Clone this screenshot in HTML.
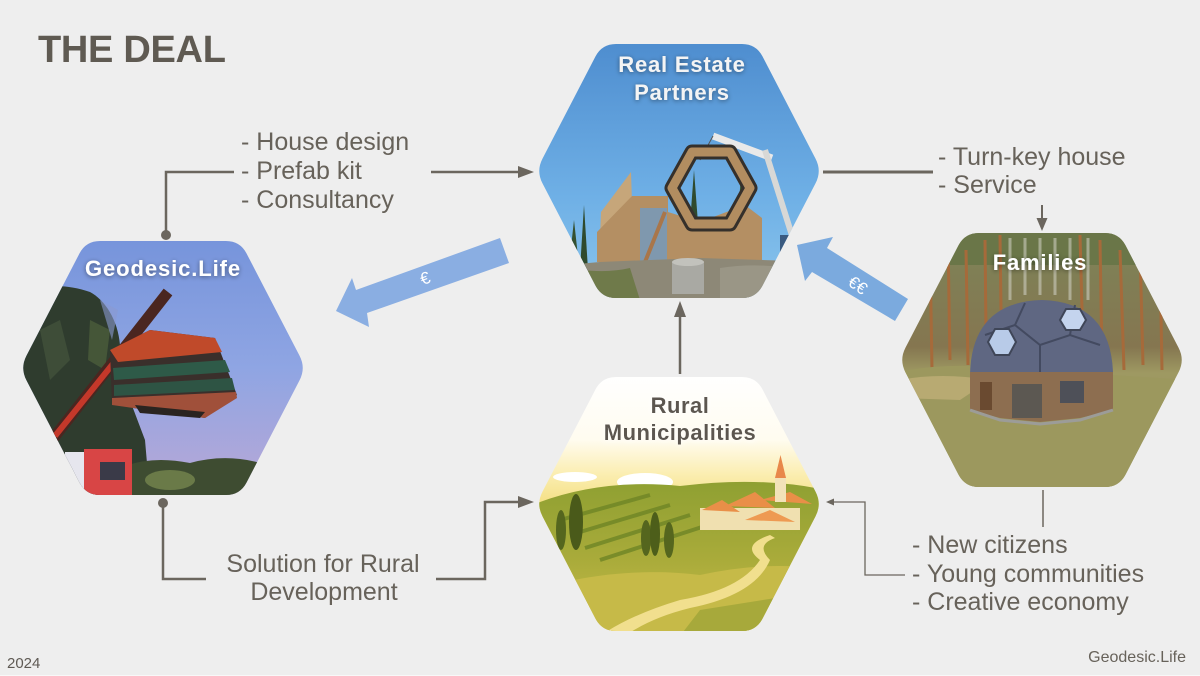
<!DOCTYPE html>
<html><head><meta charset="utf-8"><style>
html,body{margin:0;padding:0;background:#eeeeee;}
svg{display:block;}
text{font-family:"Liberation Sans",sans-serif;}
</style></head><body>
<svg width="1200" height="676" viewBox="0 0 1200 676" xmlns="http://www.w3.org/2000/svg">
<defs>
<path id="hx" d="M -63,-127 L 63,-127 Q 77,-127 83.5,-114.6 L 136.5,-12.4 Q 143,0 136.5,12.4 L 83.5,114.6 Q 77,127 63,127 L -63,127 Q -77,127 -83.5,114.6 L -136.5,12.4 Q -143,0 -136.5,-12.4 L -83.5,-114.6 Q -77,-127 -63,-127 Z"/>
<clipPath id="cG"><use href="#hx" transform="translate(163,368)"/></clipPath>
<clipPath id="cR"><use href="#hx" transform="translate(679,171)"/></clipPath>
<clipPath id="cF"><use href="#hx" transform="translate(1042,360)"/></clipPath>
<clipPath id="cM"><use href="#hx" transform="translate(679,504)"/></clipPath>
<linearGradient id="skyG" x1="0" y1="0" x2="0" y2="1">
<stop offset="0" stop-color="#7694db"/><stop offset="0.5" stop-color="#8fa5e3"/><stop offset="0.85" stop-color="#ada7da"/><stop offset="1" stop-color="#b3a5cc"/></linearGradient>
<linearGradient id="skyR" x1="0" y1="0" x2="0" y2="1">
<stop offset="0" stop-color="#4e8dcf"/><stop offset="0.6" stop-color="#6fb0e6"/><stop offset="1" stop-color="#8cc6ec"/></linearGradient>
<linearGradient id="bgF" x1="0" y1="0" x2="0" y2="1">
<stop offset="0" stop-color="#7d8458"/><stop offset="0.45" stop-color="#857650"/><stop offset="0.55" stop-color="#9e9962"/><stop offset="1" stop-color="#938f58"/></linearGradient>
<linearGradient id="bgM" x1="0" y1="0" x2="0" y2="1">
<stop offset="0" stop-color="#ffffff"/><stop offset="0.25" stop-color="#fffcf0"/><stop offset="0.38" stop-color="#fbeeb2"/><stop offset="0.5" stop-color="#f4df82"/><stop offset="1" stop-color="#e6cf60"/></linearGradient>
<linearGradient id="hillM" x1="0" y1="0" x2="0" y2="1">
<stop offset="0" stop-color="#8fa032"/><stop offset="0.5" stop-color="#a9ab3a"/><stop offset="1" stop-color="#c9bd4a"/></linearGradient>
<filter id="sh" x="-20%" y="-50%" width="140%" height="200%"><feDropShadow dx="0" dy="1" stdDeviation="2.5" flood-color="#000" flood-opacity="0.45"/></filter>
<filter id="wg" x="-20%" y="-50%" width="140%" height="200%"><feDropShadow dx="0" dy="1" stdDeviation="3" flood-color="#fff" flood-opacity="0.9"/></filter>
</defs>

<rect x="0" y="0" width="1200" height="676" fill="#eeeeee"/>
<rect x="0" y="675" width="1200" height="1" fill="#f8f8f8"/>

<!-- Title -->
<text x="38" y="62" font-size="38" font-weight="bold" fill="#5f5a52" letter-spacing="-0.3">THE DEAL</text>

<!-- ========== Geodesic.Life hex ========== -->
<g clip-path="url(#cG)">
<rect x="18" y="238" width="292" height="260" fill="url(#skyG)"/>
<path d="M18,300 C35,285 60,282 90,292 C105,300 118,320 120,345 L128,395 L145,440 L150,498 L18,498 Z" fill="#2f3c2e"/>
<path d="M40,330 L60,320 L70,360 L50,380 Z" fill="#3e4d38"/>
<path d="M90,320 L110,330 L105,370 L88,360 Z" fill="#455638"/>
<path d="M100,300 L118,310 L112,340 Z" fill="#8a9ad0" opacity="0.6"/>
<line x1="52" y1="440" x2="168" y2="292" stroke="#4a2620" stroke-width="11"/>
<line x1="55" y1="436" x2="120" y2="355" stroke="#c4382a" stroke-width="6"/>
<polygon points="110,350 150,330 215,338 237,395 205,418 112,405" fill="#3a2f2b"/>
<polygon points="110,350 150,330 215,338 222,352 118,362" fill="#c04a2a"/>
<polygon points="113,368 225,360 230,372 114,380" fill="#2e5a48"/>
<polygon points="114,385 232,378 235,390 114,396" fill="#2e5444"/>
<polygon points="112,398 236,392 237,398 205,418 112,405" fill="#a0503a"/>
<polygon points="135,405 205,412 200,418 140,413" fill="#2a2420"/>
<path d="M120,498 L120,468 Q150,455 190,463 Q230,452 270,466 L270,498 Z" fill="#3e4c31"/>
<ellipse cx="170" cy="480" rx="25" ry="10" fill="#6a7a48"/>
<rect x="65" y="452" width="20" height="46" fill="#e6e6ee"/>
<rect x="84" y="449" width="48" height="49" fill="#d84545"/>
<rect x="100" y="462" width="25" height="18" fill="#3a3a48"/>
</g>
<text x="163" y="276" font-size="22" font-weight="bold" fill="#ffffff" text-anchor="middle" letter-spacing="0.9" filter="url(#sh)">Geodesic.Life</text>

<!-- ========== Real Estate hex ========== -->
<g clip-path="url(#cR)">
<rect x="534" y="42" width="292" height="260" fill="url(#skyR)"/>
<path d="M580,270 L584,205 L588,270 Z" fill="#2f4a2e"/>
<path d="M568,275 L574,220 L580,275 Z" fill="#35502f"/>
<path d="M688,250 L694,170 L700,250 Z" fill="#2f4a2e"/>
<path d="M735,260 L742,160 L750,260 Z" fill="#3a5a34"/>
<line x1="713" y1="136" x2="772" y2="158" stroke="#e9e9e9" stroke-width="7"/>
<line x1="765" y1="150" x2="795" y2="245" stroke="#d8d8d6" stroke-width="6"/>
<line x1="713" y1="136" x2="700" y2="160" stroke="#555" stroke-width="1"/>
<polygon points="599,262 601,212 631,172 634,262" fill="#c6a67a"/>
<polygon points="597,262 597,232 632,196 668,196 668,212 700,222 745,205 762,218 762,262" fill="#b48f63"/>
<rect x="640" y="208" width="27" height="54" fill="#7f98ae"/>
<line x1="645" y1="262" x2="665" y2="212" stroke="#a9764a" stroke-width="4"/>
<polygon points="692,152 730,152 750,188 730,224 692,224 672,188" fill="none" stroke="#35302b" stroke-width="15" stroke-linejoin="round"/>
<polygon points="692,152 730,152 750,188 730,224 692,224 672,188" fill="none" stroke="#b28d60" stroke-width="9" stroke-linejoin="round"/>
<path d="M534,268 L600,262 L700,258 L826,262 L826,302 L534,302 Z" fill="#8d8877"/>
<path d="M560,266 Q600,275 630,268 L640,300 L560,300 Z" fill="#6f7a4a"/>
<path d="M720,268 Q760,262 800,270 L790,300 L720,300 Z" fill="#9a9686"/>
<rect x="672" y="262" width="32" height="32" fill="#a9a9a3"/>
<ellipse cx="688" cy="262" rx="16" ry="4" fill="#c2c2bc"/>
<rect x="780" y="235" width="25" height="18" fill="#3a5a80"/>
</g>
<text x="682" y="72" font-size="22" font-weight="bold" fill="#f4f4f4" text-anchor="middle" letter-spacing="0.8" filter="url(#sh)">Real Estate</text>
<text x="682" y="100" font-size="22" font-weight="bold" fill="#f4f4f4" text-anchor="middle" letter-spacing="0.8" filter="url(#sh)">Partners</text>

<!-- ========== Families hex ========== -->
<g clip-path="url(#cF)">
<rect x="896" y="230" width="294" height="260" fill="url(#bgF)"/>
<rect x="896" y="230" width="294" height="35" fill="#6a7648"/>
<g stroke="#d4d4c8" stroke-width="3" opacity="0.55">
<line x1="1010" y1="238" x2="1010" y2="300"/><line x1="1025" y1="238" x2="1025" y2="295"/>
<line x1="1040" y1="238" x2="1040" y2="295"/><line x1="1055" y1="238" x2="1055" y2="295"/>
<line x1="1070" y1="238" x2="1070" y2="300"/><line x1="1088" y1="238" x2="1088" y2="300"/>
</g>
<g stroke="#a66a3a" stroke-width="3">
<line x1="930" y1="250" x2="932" y2="370"/><line x1="948" y1="240" x2="950" y2="360"/>
<line x1="966" y1="250" x2="968" y2="365"/><line x1="985" y1="240" x2="986" y2="330"/>
<line x1="1000" y1="235" x2="1001" y2="310"/><line x1="1080" y1="235" x2="1082" y2="310"/>
<line x1="1100" y1="240" x2="1102" y2="360"/><line x1="1120" y1="250" x2="1124" y2="370"/>
<line x1="1140" y1="250" x2="1143" y2="365"/><line x1="1160" y1="260" x2="1162" y2="370"/>
</g>
<path d="M896,372 Q950,362 1000,368 L1190,380 L1190,490 L896,490 Z" fill="#9c985e"/>
<path d="M900,380 Q940,372 990,380 L960,400 L900,398 Z" fill="#b8aa72"/>
<path d="M970,374 Q972,302 1042,300 Q1110,302 1113,372 Z" fill="#5f6782"/>
<g stroke="#434a60" stroke-width="2" fill="none">
<path d="M985,335 L1015,325 L1040,345 L1070,335 L1100,345"/>
<path d="M1015,325 L1025,303 M1040,345 L1040,372 M1070,335 L1075,305"/>
</g>
<polygon points="995,329 1009,329 1016,342 1009,355 995,355 988,342" fill="#b8cbe8" stroke="#3f4658" stroke-width="2"/>
<polygon points="1066,309 1080,309 1086,320 1080,330 1066,330 1060,320" fill="#c4d4ee" stroke="#3f4658" stroke-width="2"/>
<polygon points="970,372 1113,372 1113,410 1080,418 1040,422 1000,418 970,410" fill="#8d6e50"/>
<rect x="1012" y="384" width="30" height="34" fill="#5c5852"/>
<rect x="1060" y="381" width="24" height="22" fill="#4e5058"/>
<rect x="980" y="382" width="12" height="28" fill="#6a4a30"/>
<path d="M970,410 L1000,420 L1040,424 L1080,420 L1113,410" fill="none" stroke="#9c9c98" stroke-width="3"/>
</g>
<text x="1040" y="270" font-size="22" font-weight="bold" fill="#ffffff" text-anchor="middle" letter-spacing="0.8" filter="url(#sh)">Families</text>

<!-- ========== Rural hex ========== -->
<g clip-path="url(#cM)">
<rect x="532" y="374" width="294" height="262" fill="url(#bgM)"/>
<ellipse cx="575" cy="477" rx="22" ry="5" fill="#ffffff"/>
<ellipse cx="645" cy="482" rx="28" ry="9" fill="#ffffff"/>
<path d="M532,505 Q600,478 680,486 Q760,476 826,490 L826,636 L532,636 Z" fill="url(#hillM)"/>
<g stroke="#6f8526" stroke-width="4" opacity="0.8">
<line x1="560" y1="520" x2="650" y2="495"/><line x1="570" y1="535" x2="670" y2="505"/>
<line x1="585" y1="548" x2="690" y2="515"/><line x1="600" y1="560" x2="705" y2="526"/>
</g>
<path d="M532,590 Q620,565 700,575 Q770,560 826,570 L826,636 L532,636 Z" fill="#c6ba48"/>
<path d="M770,535 Q740,545 760,560 Q740,590 680,600 Q630,615 600,636 L625,636 Q650,618 690,608 Q755,595 770,560 Q755,545 775,538 Z" fill="#f1df8e"/>
<path d="M700,610 L826,590 L826,636 L680,636 Z" fill="#9aa236" opacity="0.7"/>
<ellipse cx="576" cy="522" rx="7" ry="28" fill="#4a5a1a"/>
<ellipse cx="561" cy="530" rx="5" ry="20" fill="#55661e"/>
<ellipse cx="646" cy="538" rx="5" ry="18" fill="#55661e"/>
<ellipse cx="655" cy="534" rx="5" ry="22" fill="#4d5e1a"/>
<ellipse cx="669" cy="540" rx="5" ry="18" fill="#55661e"/>
<rect x="700" y="508" width="100" height="22" fill="#f0e0b0"/>
<polygon points="702,510 722,500 740,512" fill="#e98f48"/>
<polygon points="725,506 755,492 775,508" fill="#e98f48"/>
<polygon points="760,500 790,492 812,504" fill="#e98f48"/>
<polygon points="745,520 770,510 795,522" fill="#ee9a52"/>
<rect x="775" y="476" width="11" height="26" fill="#f2e2b8"/>
<polygon points="775,478 780.5,455 786,478" fill="#e8884a"/>
</g>
<text x="680" y="413" font-size="22" font-weight="bold" fill="#5b5650" text-anchor="middle" letter-spacing="0.5" filter="url(#wg)">Rural</text>
<text x="680" y="440" font-size="22" font-weight="bold" fill="#5b5650" text-anchor="middle" letter-spacing="0.5" filter="url(#wg)">Municipalities</text>

<!-- ========== Blue money arrows ========== -->
<polygon points="336,311 352,278 356,290 500,238 509,263 367,313 369,327" fill="#8aaee2"/>
<text x="425" y="284" font-size="17" fill="#ffffff" text-anchor="middle" transform="rotate(-20 425 278)">€</text>
<polygon points="797,245 833,237 827,248 908,299 895,321 812,272 805,281" fill="#7baade"/>
<text x="858" y="291" font-size="17" fill="#ffffff" text-anchor="middle" transform="rotate(35 858 285)">€€</text>

<!-- ========== Connectors ========== -->
<g stroke="#6b665e" fill="none" stroke-width="2.5">
<polyline points="166,235 166,172 234,172"/>
<line x1="431" y1="172" x2="520" y2="172"/>
<polyline points="163,503 163,579 206,579"/>
<polyline points="436,579 485,579 485,502 520,502"/>
<line x1="680" y1="374" x2="680" y2="315"/>
<line x1="823" y1="172" x2="933" y2="172" stroke-width="3"/>
<line x1="1042" y1="205" x2="1042" y2="220" stroke-width="2"/>
<line x1="1043" y1="490" x2="1043" y2="527" stroke-width="1.5"/>
<polyline points="905,575 865,575 865,502 833,502" stroke-width="1.3"/>
</g>
<g fill="#6b665e">
<circle cx="166" cy="235" r="5"/>
<circle cx="163" cy="503" r="5"/>
<polygon points="534,172 518,166 518,178"/>
<polygon points="534,502 518,496 518,508"/>
<polygon points="680,301 674,317 686,317"/>
<polygon points="1042,231 1036.5,218 1047.5,218"/>
<polygon points="826,502 834,498.5 834,505.5"/>
</g>

<!-- ========== Labels ========== -->
<g font-size="25" fill="#67625a">
<text x="241" y="150">- House design</text>
<text x="241" y="179">- Prefab kit</text>
<text x="241" y="208">- Consultancy</text>
<text x="938" y="165">- Turn-key house</text>
<text x="938" y="193">- Service</text>
<text x="912" y="553">- New citizens</text>
<text x="912" y="582">- Young communities</text>
<text x="912" y="610">- Creative economy</text>
<text x="323" y="572" text-anchor="middle">Solution for Rural</text>
<text x="324" y="600" text-anchor="middle">Development</text>
</g>
<text x="7" y="668" font-size="15" fill="#5f5a54">2024</text>
<text x="1186" y="662" font-size="16" fill="#67625a" text-anchor="end">Geodesic.Life</text>
</svg>
</body></html>
